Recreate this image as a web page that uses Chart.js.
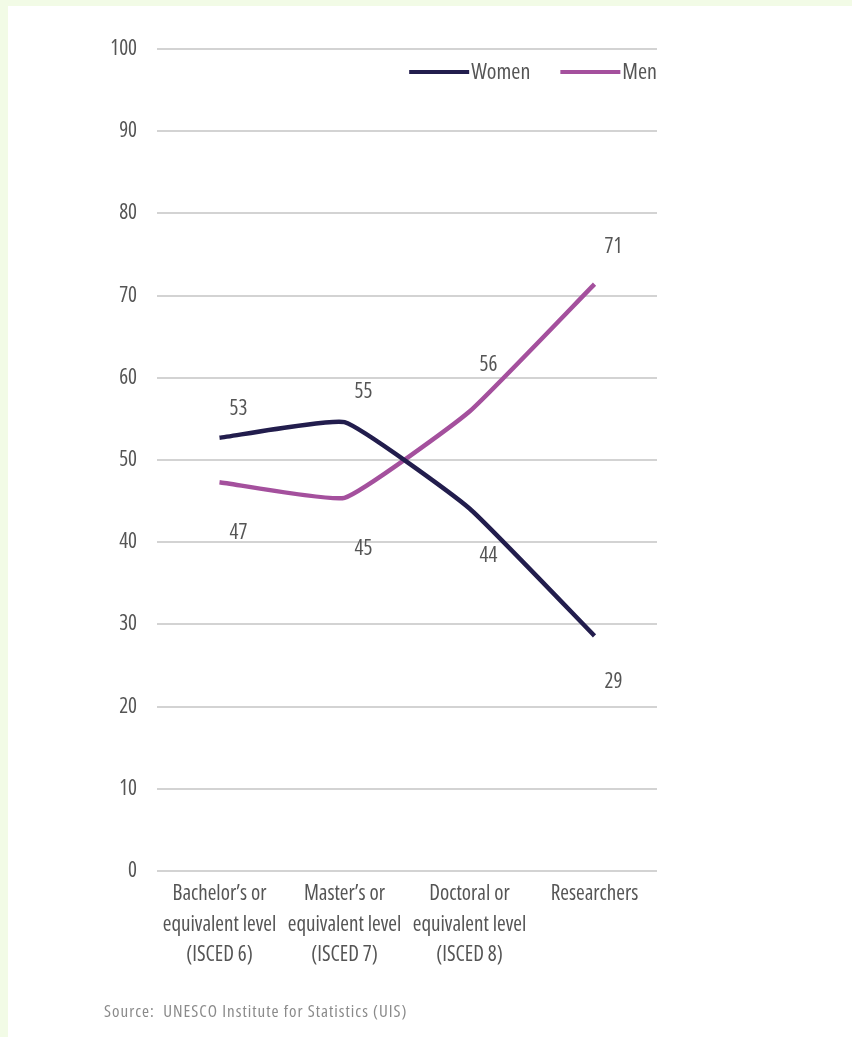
<!DOCTYPE html>
<html>
<head>
<meta charset="utf-8">
<script src="https://cdn.jsdelivr.net/npm/chart.js@4/dist/chart.umd.min.js"></script>
<style>
  html, body { margin: 0; padding: 0; }
  body { width: 852px; height: 1037px; background: #f2fbe6; position: relative; overflow: hidden; }
  #panel { position: absolute; left: 8px; top: 6px; width: 844px; height: 1031px; background: #ffffff; }
  #wrap { position: absolute; left: 0; top: 0; width: 852px; height: 1037px; }
  #source { position: absolute; left: 104px; top: 999px; font-family: "Open Sans", sans-serif; font-stretch: condensed; font-size: 17px; letter-spacing: 1px; color: #8a8a8a; white-space: pre; }
</style>
</head>
<body>
<div id="panel"></div>
<div id="wrap"><canvas id="c" width="852" height="1037"></canvas></div>
<div id="source">Source:  UNESCO Institute for Statistics (UIS)</div>
<script>
const categories = [
  ["Bachelor\u2019s or", "equivalent level", "(ISCED 6)"],
  ["Master\u2019s or", "equivalent level", "(ISCED 7)"],
  ["Doctoral or", "equivalent level", "(ISCED 8)"],
  "Researchers"
];
const women = [52.7, 54.6, 44.1, 28.6];
const men = [47.3, 45.4, 55.9, 71.4];
const yTicks = [0, 10, 20, 30, 40, 50, 60, 70, 80, 90, 100];

const FAMILY = '"Open Sans", sans-serif';
const STRETCH = 'condensed';
const TEXT = '#555555';

const valueLabels = {
  id: 'valueLabels',
  afterDatasetsDraw(chart, args, opts) {
    const ctx = chart.ctx;
    ctx.save();
    ctx.font = STRETCH + ' 21px ' + FAMILY;
    ctx.fillStyle = TEXT;
    ctx.textAlign = 'center';
    ctx.textBaseline = 'middle';
    chart.data.datasets.forEach((ds, di) => {
      const meta = chart.getDatasetMeta(di);
      meta.data.forEach((pt, i) => {
        const other = chart.data.datasets[1 - di].data[i];
        const above = ds.data[i] >= other;
        const dy = above ? opts.above[i] : opts.below[i];
        ctx.fillText(String(Math.round(ds.data[i])), pt.x + opts.dx, pt.y + dy);
      });
    });
    ctx.restore();
  }
};

const innerLegend = {
  id: 'innerLegend',
  afterDraw(chart, args, opts) {
    const ctx = chart.ctx;
    const area = chart.chartArea;
    ctx.save();
    ctx.font = STRETCH + ' 22px ' + FAMILY;
    ctx.textBaseline = 'middle';
    ctx.textAlign = 'left';
    const items = chart.data.datasets.map(ds => ({ label: ds.label, color: ds.borderColor, w: ctx.measureText(ds.label).width }));
    let total = 0;
    items.forEach((it, i) => { total += opts.lineLen + opts.gap + it.w + (i < items.length - 1 ? opts.spacing : 0); });
    let x = area.right - total;
    const y = area.top + opts.offsetY;
    items.forEach(it => {
      ctx.strokeStyle = it.color;
      ctx.lineWidth = 4;
      ctx.lineCap = 'butt';
      ctx.beginPath();
      ctx.moveTo(x, y);
      ctx.lineTo(x + opts.lineLen, y);
      ctx.stroke();
      x += opts.lineLen + opts.gap;
      ctx.fillStyle = TEXT;
      ctx.fillText(it.label, x, y + 1);
      x += it.w + opts.spacing;
    });
    ctx.restore();
  }
};

new Chart(document.getElementById('c'), {
  type: 'line',
  data: {
    labels: categories,
    datasets: [
      { label: 'Women', data: women, borderColor: '#221d4d', backgroundColor: '#221d4d', borderWidth: 4.5, pointRadius: 0, tension: 0.12 },
      { label: 'Men', data: men, borderColor: '#a4509d', backgroundColor: '#a4509d', borderWidth: 4.5, pointRadius: 0, tension: 0.12 }
    ]
  },
  options: {
    responsive: false,
    animation: false,
    layout: { padding: { top: 49, right: 195, left: 0, bottom: 0 } },
    plugins: {
      legend: { display: false },
      tooltip: { enabled: false },
      valueLabels: { dx: 19, above: [-29, -30, -46, -37], below: [51, 51, 48, 46] },
      innerLegend: { lineLen: 60, gap: 2, spacing: 30, offsetY: 23 }
    },
    scales: {
      x: {
        offset: true,
        grid: { display: false, drawTicks: false },
        border: { display: false },
        ticks: { color: TEXT, font: { family: FAMILY, weight: STRETCH, size: 21, lineHeight: 1.45 }, padding: 8, maxRotation: 0, autoSkip: false },
        afterFit(scale) { scale.height = 166; }
      },
      y: {
        min: 0, max: 100,
        afterBuildTicks(scale) { scale.ticks = yTicks.map(v => ({ value: v })); },
        grid: { color: '#d3d3d3', lineWidth: 2, drawTicks: false },
        border: { display: false },
        ticks: { color: TEXT, font: { family: FAMILY, weight: STRETCH, size: 21 }, padding: 20 },
        afterFit(scale) { scale.width = 157; }
      }
    }
  },
  plugins: [valueLabels, innerLegend]
});
</script>
</body>
</html>
